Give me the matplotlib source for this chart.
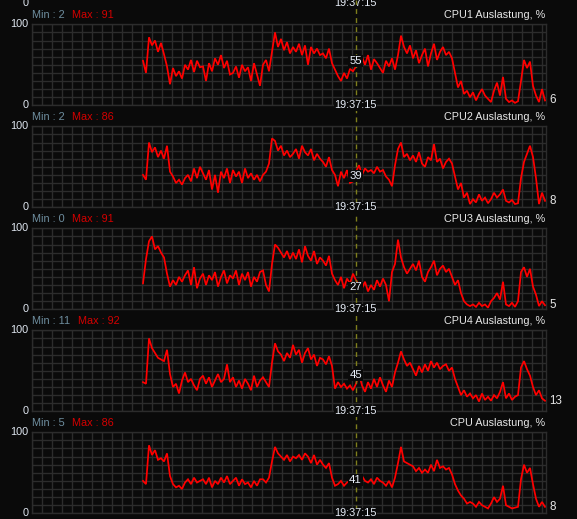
import numpy as np
import matplotlib
matplotlib.use('Agg')
import matplotlib.pyplot as plt
from matplotlib.lines import Line2D
from matplotlib.text import Annotation

# ---------------- data ----------------
titles = ["CPU1 Auslastung, %", "CPU2 Auslastung, %", "CPU3 Auslastung, %",
          "CPU4 Auslastung, %", "CPU Auslastung, %"]
mins = [2, 2, 0, 11, 5]
maxs = [91, 86, 91, 92, 86]
cursor_values = [55, 39, 27, 45, 41]
last_values = [6, 8, 5, 13, 8]
cursor_time = "19:37:15"
y_labels = ["100", "0"]

cpu1 = [55, 40, 84, 74, 80, 66, 77, 63, 48, 26,
        46, 36, 42, 33, 50, 44, 56, 41, 55, 47,
        48, 30, 52, 42, 58, 50, 62, 46, 55, 38,
        40, 48, 34, 50, 42, 47, 30, 52, 38, 24,
        50, 56, 42, 66, 90, 72, 82, 68, 78, 64,
        72, 66, 76, 62, 74, 50, 72, 64, 70, 62,
        64, 58, 70, 52, 44, 36, 30, 40, 33, 45,
        42, 48, 55, 60, 50, 62, 44, 57, 52, 46,
        40, 55, 48, 58, 44, 62, 86, 72, 64, 74,
        58, 68, 52, 62, 70, 48, 64, 76, 56, 66,
        72, 62, 66, 58, 40, 22, 30, 14, 18, 10,
        16, 6, 14, 20, 12, 8, 4, 18, 28, 12,
        35, 8, 4, 6, 3, 5, 30, 56, 46, 54,
        24, 12, 4, 20, 6]
cpu2 = [40, 34, 80, 68, 74, 62, 70, 60, 76, 44,
        38, 30, 34, 28, 36, 40, 32, 48, 36, 50,
        42, 34, 46, 22, 40, 18, 44, 36, 48, 30,
        46, 38, 44, 30, 48, 36, 42, 34, 40, 32,
        40, 44, 54, 85, 82, 70, 76, 64, 70, 62,
        66, 72, 60, 76, 68, 64, 72, 58, 66, 60,
        56, 50, 62, 46, 40, 26, 44, 36, 46, 30,
        32, 44, 52, 40, 48, 44, 46, 42, 50, 44,
        46, 38, 34, 26, 52, 72, 80, 62, 66, 58,
        64, 56, 68, 54, 50, 62, 58, 78, 56, 60,
        48, 56, 60, 54, 38, 22, 30, 12, 18, 4,
        10, 6, 16, 8, 12, 5, 10, 18, 12, 16,
        22, 8, 6, 9, 4, 5, 36, 56, 66, 76,
        62, 36, 4, 18, 8]
cpu3 = [32, 62, 84, 90, 74, 78, 70, 64, 44, 28,
        36, 30, 40, 34, 42, 48, 30, 52, 26, 38,
        44, 30, 42, 36, 46, 28, 40, 48, 32, 42,
        38, 48, 30, 44, 36, 46, 28, 40, 34, 46,
        48, 30, 22, 56, 80, 76, 70, 64, 72, 62,
        70, 62, 74, 58, 78, 66, 60, 72, 56, 64,
        60, 54, 66, 44, 36, 30, 40, 26, 38, 32,
        44, 36, 30, 26, 34, 22, 30, 24, 36, 28,
        38, 30, 10, 46, 56, 86, 64, 52, 44, 50,
        56, 48, 60, 40, 34, 46, 52, 60, 42, 50,
        54, 46, 50, 40, 30, 36, 20, 10, 6, 4,
        6, 3, 8, 4, 6, 2, 10, 14, 20, 12,
        34, 6, 4, 8, 3, 10, 46, 52, 40, 50,
        28, 18, 4, 10, 5]
cpu4 = [36, 34, 90, 78, 72, 66, 64, 62, 76, 46,
        30, 34, 22, 38, 48, 36, 40, 32, 26, 40,
        44, 34, 42, 30, 38, 46, 36, 40, 58, 36,
        42, 30, 38, 28, 40, 34, 26, 44, 30, 38,
        42, 36, 30, 60, 84, 74, 70, 62, 72, 66,
        82, 70, 76, 60, 72, 78, 64, 70, 56, 66,
        64, 58, 68, 56, 28, 36, 30, 34, 28, 32,
        26, 34, 46, 32, 24, 36, 28, 40, 30, 42,
        32, 24, 38, 30, 48, 60, 74, 64, 56, 60,
        52, 44, 56, 48, 58, 50, 62, 54, 60, 52,
        56, 58, 50, 54, 40, 30, 20, 26, 18, 22,
        16, 20, 12, 22, 14, 18, 13, 20, 16, 24,
        36, 16, 22, 14, 18, 20, 54, 62, 52, 44,
        30, 20, 26, 16, 13]
cpu_total = [40, 36, 84, 72, 78, 66, 68, 64, 74, 46,
             36, 32, 34, 30, 38, 42, 36, 44, 38, 40,
             42, 36, 44, 32, 40, 36, 44, 38, 46, 36,
             40, 44, 34, 42, 36, 38, 32, 40, 34, 42,
             42, 38, 44, 64, 82, 74, 70, 66, 72, 64,
             70, 68, 72, 66, 74, 70, 62, 72, 60, 66,
             60, 56, 62, 44, 34, 36, 40, 34, 38, 40,
             42, 36, 44, 46, 40, 38, 42, 36, 44, 40,
             38, 34, 40, 32, 44, 62, 82, 64, 62, 60,
             58, 52, 56, 50, 54, 50, 60, 52, 66, 56,
             58, 54, 56, 48, 36, 28, 22, 18, 12, 14,
             12, 8, 14, 10, 8, 6, 12, 20, 14, 18,
             34, 10, 8, 6, 7, 8, 42, 60, 50, 56,
             36, 18, 8, 14, 8]
series = [cpu1, cpu2, cpu3, cpu4, cpu_total]

# ---------------- layout (pixels) ----------------
W, H = 577, 519
DPI = 100
PL, PR = 32.0, 546.0           # plot area left/right
TOP0, PH, PITCH = 24.3, 81.0, 102.0
DATA_X0 = 143.0                # pixel where data starts
PX_PER_SAMPLE = 3.0
CURSOR_PX = 355.5

BG = '#0a0a0a'
GRID = '#2c2c2c'
FONT = 'Liberation Sans'
FS = 7.8

fig = plt.figure(figsize=(W / DPI, H / DPI), dpi=DPI, facecolor=BG)


def fx(x):
    return x / W


def fy(y):
    return 1 - y / H


x_left = -(DATA_X0 - PL) / PX_PER_SAMPLE
x_right = (PR - DATA_X0) / PX_PER_SAMPLE

for k, vals in enumerate(series):
    top = TOP0 + k * PITCH
    bottom = top + PH
    ax = fig.add_axes([fx(PL), fy(bottom), (PR - PL) / W, PH / H])
    ax.set_facecolor(BG)
    ax.set_xlim(x_left, x_right)
    ax.set_ylim(0, 100)
    ax.set_xticks(np.arange(x_left, x_right + 0.01, 10 / PX_PER_SAMPLE))
    ax.set_yticks(np.arange(0, 101, 10))
    ax.grid(True, color=GRID, linewidth=1.0)
    ax.tick_params(left=False, bottom=False, labelleft=False, labelbottom=False)
    for s in ax.spines.values():
        s.set_color(GRID)
        s.set_linewidth(1.0)
    ax.set_axisbelow(True)
    xs = np.arange(len(vals))
    ax.plot(xs, vals, color='#ff0000', linewidth=1.25, solid_joinstyle='miter',
            clip_on=False, zorder=3)

    # labels
    fig.text(fx(28.5), fy(top), y_labels[0], ha='right', va='center',
             color='#dfe6f0', fontsize=FS, family=FONT)
    fig.text(fx(28.5), fy(bottom), y_labels[1], ha='right', va='center',
             color='#dfe6f0', fontsize=FS, family=FONT)
    tmin = fig.text(fx(32.5), fy(top - 9.3), f"Min : {mins[k]}", ha='left', va='center',
                    color='#6f8fa0', fontsize=FS, family=FONT)
    fig.add_artist(Annotation(
        f"Max : {maxs[k]}", xy=(1, 0.5), xycoords=tmin,
        xytext=(7, 0), textcoords='offset pixels', ha='left', va='center',
        color='#d40000', fontsize=FS, family=FONT))
    fig.text(fx(545.5), fy(top - 9.3), titles[k], ha='right', va='center',
             color='#e6e6e6', fontsize=FS, family=FONT)
    # cursor value at its data height
    cy = bottom - PH * cursor_values[k] / 100
    fig.text(fx(CURSOR_PX), fy(cy), str(cursor_values[k]), ha='center', va='center',
             color='#e8eef8', fontsize=FS + 0.4, family=FONT, zorder=5,
             bbox=dict(facecolor=BG, edgecolor='none', pad=0.6))
    # last value
    ly = bottom - PH * last_values[k] / 100
    fig.text(fx(549), fy(ly), str(last_values[k]), ha='left', va='center',
             color='#e6e6e6', fontsize=FS + 0.6, family=FONT)
    # time at cursor
    fig.text(fx(CURSOR_PX), fy(bottom), cursor_time, ha='center', va='center',
             color='#e8eef8', fontsize=FS, family=FONT, zorder=5,
             bbox=dict(facecolor=BG, edgecolor='none', pad=0.5))

# partially visible labels of panel above (cut by the top edge, as in the reference)
prev_bottom = TOP0 - PITCH + PH
fig.text(fx(28.5), fy(prev_bottom), y_labels[1], ha='right', va='center',
         color='#dfe6f0', fontsize=FS, family=FONT)
fig.text(fx(CURSOR_PX), fy(prev_bottom), cursor_time, ha='center', va='center',
         color='#e8eef8', fontsize=FS, family=FONT)

# dashed cursor line across the whole figure
fig.add_artist(Line2D([fx(CURSOR_PX), fx(CURSOR_PX)], [0, 1], transform=fig.transFigure,
                      color='#7e7e1c', linewidth=1.0, linestyle=(0, (3.5, 3)), zorder=4))

fig.savefig('out.png', dpi=DPI, facecolor=BG)
